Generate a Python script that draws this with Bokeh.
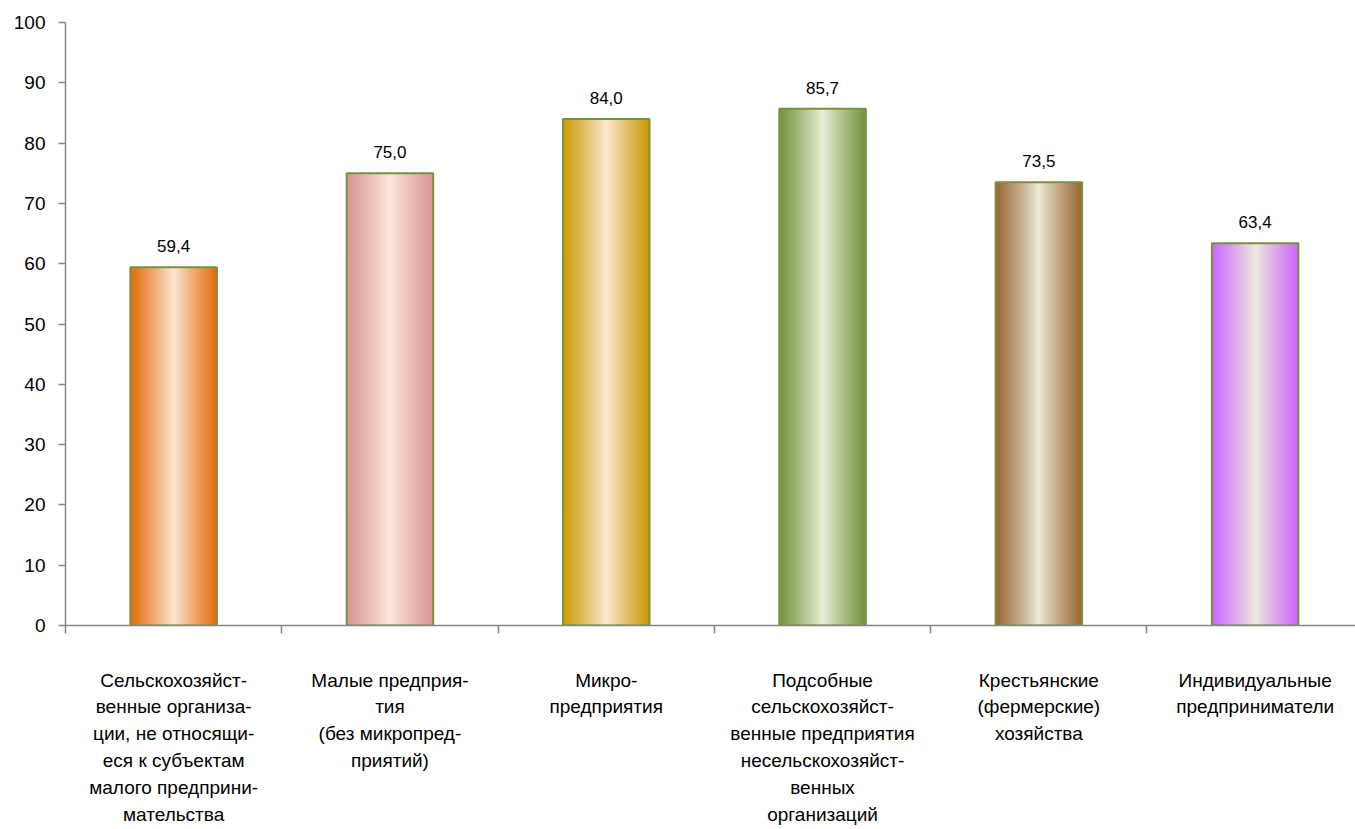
import numpy as np
from bokeh.plotting import figure
from bokeh.models import Range1d, FixedTicker, ColumnDataSource, LabelSet
from bokeh.core.properties import value
from bokeh.embed import file_html
from bokeh.resources import INLINE

categories = [
    "Сельскохозяйст-\nвенные организа-\nции, не относящи-\nеся к субъектам\nмалого предприни-\nмательства",
    "Малые предприя-\nтия\n(без микропред-\nприятий)",
    "Микро-\nпредприятия",
    "Подсобные\nсельскохозяйст-\nвенные предприятия\nнесельскохозяйст-\nвенных\nорганизаций",
    "Крестьянские\n(фермерские)\nхозяйства",
    "Индивидуальные\nпредприниматели",
]
values = [59.4, 75.0, 84.0, 85.7, 73.5, 63.4]
edge_colors = ["#E36C0A", "#D99694", "#CC9A06", "#76923C", "#996633", "#CC66FF"]
center_colors = ["#FDEADA", "#FDE9DE", "#FDEADA", "#EBF1DE", "#EEEEDC", "#EEEEDC"]
y_ticks = list(range(0, 101, 10))

FONT = "Liberation Sans"
BAR_W = 0.4
M = 44

def hex2rgb(h):
    h = h.lstrip("#")
    return np.array([int(h[i:i + 2], 16) for i in (0, 2, 4)], dtype=float)

p = figure(width=1355, height=829, output_backend="svg", toolbar_location=None,
           x_range=Range1d(0, 5.964), y_range=Range1d(0, 100),
           min_border_left=65, min_border_top=22, min_border_bottom=204, min_border_right=0)
p.xgrid.visible = False
p.ygrid.visible = False
p.outline_line_color = None
p.background_fill_color = "white"

centers = [i + 0.5 for i in range(len(values))]

# gradient: nested bars from outer (edge colour) to inner (centre colour)
xs, tops, widths, cols = [], [], [], []
for i, v in enumerate(values):
    e = hex2rgb(edge_colors[i])
    c = hex2rgb(center_colors[i])
    for k in range(M):
        t = 1.0 - k / M
        rgb = c + (e - c) * (t ** 0.9)
        xs.append(centers[i])
        tops.append(v)
        widths.append(BAR_W * t)
        cols.append("#%02x%02x%02x" % tuple(int(round(q)) for q in rgb))
strip_src = ColumnDataSource(dict(x=xs, top=tops, w=widths, color=cols))
p.vbar(x="x", top="top", bottom=0, width="w", source=strip_src,
       fill_color="color", line_color=None)

labels = [f"{v:.1f}".replace(".", ",") for v in values]
src = ColumnDataSource(dict(x=centers, top=values, label=labels))
p.vbar(x="x", top="top", bottom=0, width=BAR_W, source=src,
       fill_color=None, line_color="#77933C", line_width=2)

p.add_layout(LabelSet(x="x", y="top", text="label", source=src, y_offset=21,
                      text_align="center", text_baseline="middle",
                      text_font=value(FONT), text_font_size="17px", text_color="black"))

# x axis
xa = p.xaxis[0]
xa.ticker = FixedTicker(ticks=centers, minor_ticks=list(range(0, 7)))
xa.major_label_overrides = {c: lab for c, lab in zip(centers, categories)}
xa.major_tick_line_color = None
xa.minor_tick_line_color = "#868686"
xa.minor_tick_out = 8
xa.minor_tick_in = 0
xa.axis_line_color = "#868686"
xa.axis_line_width = 1.5
xa.minor_tick_line_width = 1.5
xa.major_label_text_font = FONT
xa.major_label_text_font_size = "19px"
xa.major_label_text_line_height = 1.28
xa.major_label_text_color = "black"
xa.major_label_standoff = 36

ya = p.yaxis[0]
ya.ticker = FixedTicker(ticks=y_ticks)
ya.axis_line_color = "#868686"
ya.axis_line_width = 1.5
ya.major_tick_line_color = "#868686"
ya.major_tick_line_width = 1.5
ya.major_tick_out = 7
ya.major_tick_in = 0
ya.minor_tick_line_color = None
ya.major_label_text_font = FONT
ya.major_label_text_font_size = "19px"
ya.major_label_text_color = "black"
ya.major_label_standoff = 13

open("out.html", "w").write(file_html(p, INLINE))
